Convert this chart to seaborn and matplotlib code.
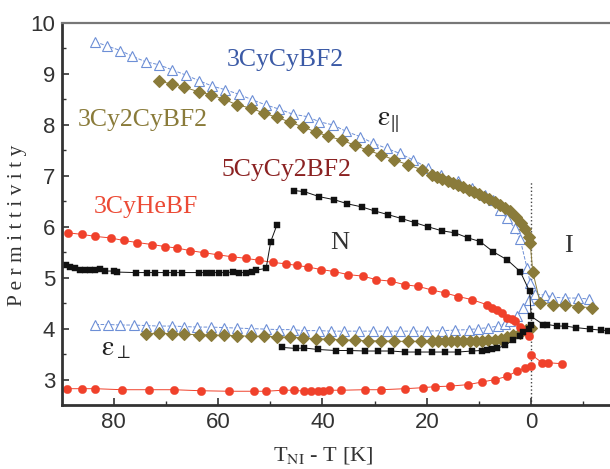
import matplotlib
matplotlib.use("Agg")
import matplotlib.pyplot as plt
from matplotlib.ticker import MultipleLocator
import seaborn as sns

# --- 3CyCyBF2 (open triangles) ---
blue_par_x = [83.5, 81.3, 78.7, 76.5, 73.9, 71.3, 68.8, 66.2, 63.7, 61.1, 58.6, 56.0, 53.4, 50.8,
              48.3, 45.7, 42.8, 40.6, 38.0, 35.4, 32.8, 30.3, 27.7, 25.2, 22.6, 19.7, 17.2, 14.0,
              11.4, 8.8, 7.4, 6.0, 4.7, 3.1, 2.1, 0.8, 0.2, -0.8, -2.7, -4.0, -6.4, -9.0, -11.0]
blue_par_y = [9.63, 9.55, 9.46, 9.35, 9.24, 9.18, 9.08, 8.98, 8.87, 8.76, 8.69, 8.60, 8.49, 8.39,
              8.31, 8.21, 8.16, 8.06, 8.00, 7.87, 7.77, 7.64, 7.54, 7.44, 7.31, 7.15, 7.02, 6.89,
              6.76, 6.63, 6.52, 6.32, 6.17, 5.97, 5.75, 5.19, 4.90, 4.67, 4.66, 4.62, 4.60, 4.60, 4.58]
blue_perp_x = [83.5, 81.0, 78.7, 76.2, 73.9, 71.3, 68.8, 66.5, 64.0, 61.4, 58.8, 56.3, 53.7, 50.8,
               48.3, 45.7, 43.5, 40.6, 38.4, 35.8, 32.9, 30.3, 27.7, 25.2, 22.6, 20.0, 17.1, 14.6,
               12.0, 10.1, 8.2, 6.3, 5.0, 4.0, 2.8, 1.5, 0.5]
blue_perp_y = [4.08, 4.08, 4.07, 4.07, 4.06, 4.05, 4.05, 4.04, 4.03, 4.03, 4.02, 4.01, 4.00, 3.99,
               3.98, 3.98, 3.96, 3.96, 3.95, 3.95, 3.95, 3.95, 3.95, 3.95, 3.95, 3.95, 3.96, 3.97,
               3.98, 4.00, 4.02, 4.05, 4.10, 4.14, 4.24, 4.40, 4.57]

# --- 3Cy2CyBF2 (diamonds) ---
olive_par_x = [71.3, 68.8, 66.5, 63.7, 61.3, 58.8, 56.3, 53.7, 51.2, 48.8, 46.3, 43.8, 41.2, 39.0,
               36.3, 33.8, 31.3, 28.7, 26.2, 23.7, 21.0, 19.1, 18.0, 17.0, 16.0, 15.0, 14.0, 13.0,
               12.0, 11.0, 10.0, 9.0, 8.0, 7.0, 6.0, 5.0, 4.0, 3.0, 2.0, 1.2, 0.5, 0.2, -0.3,
               -1.7, -4.2, -6.5, -9.0, -11.7]
olive_par_y = [8.86, 8.80, 8.74, 8.65, 8.59, 8.50, 8.39, 8.33, 8.23, 8.15, 8.06, 7.96, 7.86, 7.78,
               7.70, 7.60, 7.50, 7.41, 7.31, 7.22, 7.12, 7.02, 6.98, 6.94, 6.90, 6.86, 6.82, 6.78,
               6.73, 6.69, 6.64, 6.59, 6.54, 6.49, 6.43, 6.37, 6.30, 6.20, 6.08, 5.95, 5.80, 5.69, 5.12,
               4.51, 4.47, 4.47, 4.43, 4.41]
olive_perp_x = [73.8, 71.3, 68.8, 66.5, 63.7, 61.3, 58.8, 56.3, 53.7, 51.2, 48.8, 46.3, 43.8, 41.2,
                38.7, 36.2, 33.7, 31.2, 28.7, 26.2, 23.7, 21.2, 19.0, 17.8, 16.6, 15.4, 14.2, 13.0,
                11.8, 10.6, 9.4, 8.2, 7.0, 5.8, 4.6, 3.4, 2.2, 1.0, 0.0]
olive_perp_y = [3.90, 3.91, 3.90, 3.89, 3.88, 3.87, 3.87, 3.86, 3.85, 3.85, 3.84, 3.83, 3.82, 3.80,
                3.79, 3.78, 3.77, 3.76, 3.76, 3.75, 3.75, 3.75, 3.75, 3.75, 3.75, 3.75, 3.75, 3.75,
                3.75, 3.76, 3.76, 3.77, 3.78, 3.80, 3.83, 3.87, 3.92, 3.97, 4.02]

# --- 5CyCy2BF2 (squares) ---
black_low_x = [89.2, 88.3, 87.4, 86.4, 85.4, 84.5, 83.5, 82.6, 81.6, 80.0, 79.4, 75.8, 73.6, 72.0,
               70.0, 68.5, 66.9, 63.7, 62.4, 61.1, 59.8, 58.5, 57.2, 56.0, 54.7, 53.4, 52.8, 50.8,
               49.9, 48.7]
black_low_y = [5.24, 5.20, 5.18, 5.16, 5.16, 5.16, 5.16, 5.17, 5.13, 5.13, 5.11, 5.10, 5.10, 5.10,
               5.10, 5.10, 5.10, 5.10, 5.10, 5.10, 5.10, 5.10, 5.11, 5.10, 5.10, 5.12, 5.15, 5.18,
               5.71, 6.04]
black_par_x = [45.4, 43.5, 40.6, 37.7, 35.2, 32.5, 30.0, 27.5, 24.8, 22.3, 19.8, 17.1, 14.6, 12.1,
               9.8, 7.3, 4.6, 2.1, 0.3, 0.0, -2.3, -3.1, -5.0, -6.5, -8.5, -11.3, -13.3, -14.8]
black_par_y = [6.71, 6.69, 6.59, 6.53, 6.45, 6.39, 6.31, 6.24, 6.16, 6.08, 6.00, 5.92, 5.88, 5.78,
               5.71, 5.51, 5.35, 5.12, 4.73, 4.24, 4.08, 4.08, 4.05, 4.05, 4.02, 3.99, 3.97, 3.96]
black_perp_x = [47.7, 45.0, 43.5, 40.9, 37.4, 34.8, 31.9, 29.4, 26.8, 24.2, 21.7, 19.1, 16.5, 14.0,
                11.4, 9.5, 8.5, 7.6, 6.6, 5.0, 3.4, 2.1, 1.5, 0.5, 0.0]
black_perp_y = [3.63, 3.61, 3.62, 3.59, 3.57, 3.57, 3.56, 3.56, 3.56, 3.54, 3.54, 3.54, 3.54, 3.54,
                3.56, 3.57, 3.58, 3.59, 3.61, 3.67, 3.78, 3.86, 3.93, 4.00, 4.08]

# --- 3CyHeBF (circles) ---
red_par_x = [88.7, 86.1, 83.5, 80.6, 78.1, 75.5, 72.6, 70.1, 67.8, 65.3, 62.7, 60.1, 57.3, 54.7,
             52.1, 49.5, 46.9, 44.9, 42.8, 40.3, 37.7, 35.1, 32.2, 29.7, 26.8, 24.2, 21.7, 19.1,
             16.5, 14.0, 11.4, 8.5, 7.6, 6.6, 5.6, 4.7, 3.7, 3.1, 2.1, 1.2, 0.5]
red_par_y = [5.88, 5.85, 5.81, 5.78, 5.73, 5.69, 5.65, 5.61, 5.58, 5.53, 5.49, 5.45, 5.41, 5.38,
             5.34, 5.30, 5.27, 5.24, 5.21, 5.16, 5.12, 5.06, 5.03, 4.96, 4.93, 4.86, 4.83, 4.76,
             4.70, 4.63, 4.57, 4.47, 4.41, 4.36, 4.31, 4.21, 4.18, 4.14, 4.04, 3.95, 3.85]
red_iso_x = [0.0, -2.1, -3.3, -5.9]
red_iso_y = [3.49, 3.33, 3.33, 3.31]
red_perp_x = [89.0, 86.1, 83.5, 78.4, 73.3, 68.5, 63.3, 57.9, 53.1, 50.8, 47.6, 45.4, 43.5, 42.2,
              40.9, 39.9, 38.7, 36.4, 31.9, 28.7, 24.2, 20.7, 18.5, 15.6, 12.1, 9.5, 6.9, 4.7,
              2.8, 1.2, 0.0]
red_perp_y = [2.82, 2.82, 2.82, 2.80, 2.80, 2.80, 2.78, 2.77, 2.77, 2.77, 2.79, 2.79, 2.77, 2.77,
              2.77, 2.78, 2.79, 2.79, 2.80, 2.80, 2.82, 2.84, 2.86, 2.87, 2.90, 2.95, 3.00, 3.06,
              3.16, 3.23, 3.26]

x_ticks = [0, 20, 40, 60, 80]
y_ticks = [3, 4, 5, 6, 7, 8, 9, 10]

c_blue = "#6d8fd6"
c_olive = "#8a7b3a"
c_red = "#f0412b"
c_black = "#111111"

sns.set_style("ticks")
plt.rcParams["font.family"] = ["Liberation Sans", "DejaVu Sans"]
plt.rcParams["mathtext.fontset"] = "stix"

fig = plt.figure(figsize=(6.1, 4.69), dpi=100)
ax = fig.add_axes([62 / 610, 1 - 405 / 469, (610 - 62) / 610, (405 - 23) / 469])


def branch(x, y, color, marker, ms, mfc, mew=0.8, ls="-"):
    sns.lineplot(x=x, y=y, ax=ax, estimator=None, sort=False, color=color,
                 marker=marker, markersize=ms, markerfacecolor=mfc,
                 markeredgecolor=color, markeredgewidth=mew,
                 linewidth=0.7, linestyle=ls)


branch(blue_par_x, blue_par_y, c_blue, "^", 7, "white", mew=0.8, ls="--")
branch(blue_perp_x, blue_perp_y, c_blue, "^", 7, "white", mew=0.8, ls="--")
branch(olive_par_x, olive_par_y, c_olive, "D", 6, c_olive)
branch(olive_perp_x, olive_perp_y, c_olive, "D", 6, c_olive)
branch(red_par_x, red_par_y, c_red, "o", 6, c_red, mew=0.3)
branch(red_iso_x, red_iso_y, c_red, "o", 6, c_red, mew=0.3)
branch(red_perp_x, red_perp_y, c_red, "o", 6, c_red, mew=0.3)
branch(black_low_x, black_low_y, c_black, "s", 4.8, c_black, mew=0.3)
branch(black_par_x, black_par_y, c_black, "s", 4.8, c_black, mew=0.3)
branch(black_perp_x, black_perp_y, c_black, "s", 4.8, c_black, mew=0.3)

ax.vlines(0, 2.5, 6.9, colors="#444444", linestyles=":", linewidth=1.0, zorder=0)

ax.set_xlim(89.9, -15.1)
ax.set_ylim(2.5, 10)
ax.set_xticks(x_ticks)
ax.set_yticks(y_ticks)
ax.xaxis.set_minor_locator(MultipleLocator(10))
ax.yaxis.set_minor_locator(MultipleLocator(0.5))
ax.tick_params(axis="both", which="major", direction="in", length=5, width=1.2,
               labelsize=16, colors="#333333", pad=5)
ax.tick_params(axis="both", which="minor", direction="in", length=3, width=1.0,
               colors="#333333")
ax.set_xlabel("")
ax.set_ylabel("")

for side in ["left", "bottom"]:
    ax.spines[side].set_linewidth(2.0)
    ax.spines[side].set_color("#333333")
ax.spines["top"].set_linewidth(1.6)
ax.spines["top"].set_color("#777777")
ax.spines["right"].set_visible(False)

serif = ["Liberation Serif", "DejaVu Serif"]
ax.text(47.1, 9.27, "3CyCyBF2", color="#3b5aa6", fontsize=18.5, family=serif, ha="center", va="center")
ax.text(74.4, 8.10, "3Cy2CyBF2", color="#8a7b3a", fontsize=18.5, family=serif, ha="center", va="center")
ax.text(46.9, 7.12, "5CyCy2BF2", color="#8b2222", fontsize=18.5, family=serif, ha="center", va="center")
ax.text(73.8, 6.39, "3CyHeBF", color="#ec4a35", fontsize=18.5, family=serif, ha="center", va="center")
ax.text(27.5, 8.05, r"$\mathrm{\varepsilon}_{\Vert}$", color="#222222", fontsize=20, ha="center", va="center")
ax.text(79.5, 3.62, r"$\mathrm{\varepsilon}_{\perp}$", color="#222222", fontsize=20, ha="center", va="center")
ax.text(36.7, 5.69, "N", color="#333333", fontsize=19, family=serif, ha="center", va="center")
ax.text(-7.1, 5.62, "I", color="#333333", fontsize=19, family=serif, ha="center", va="center")

fig.text(18 / 610, 1 - 225 / 469, "P e r m i t t i v i t y", rotation=90, fontsize=15.5,
         family=serif, color="#333333", ha="center", va="center")
fig.text(323 / 610, 1 - 455 / 469, r"T$_{\mathrm{NI}}$ - T [K]", fontsize=16,
         family=serif, color="#333333", ha="center", va="center")

fig.savefig("out.png", dpi=100)
